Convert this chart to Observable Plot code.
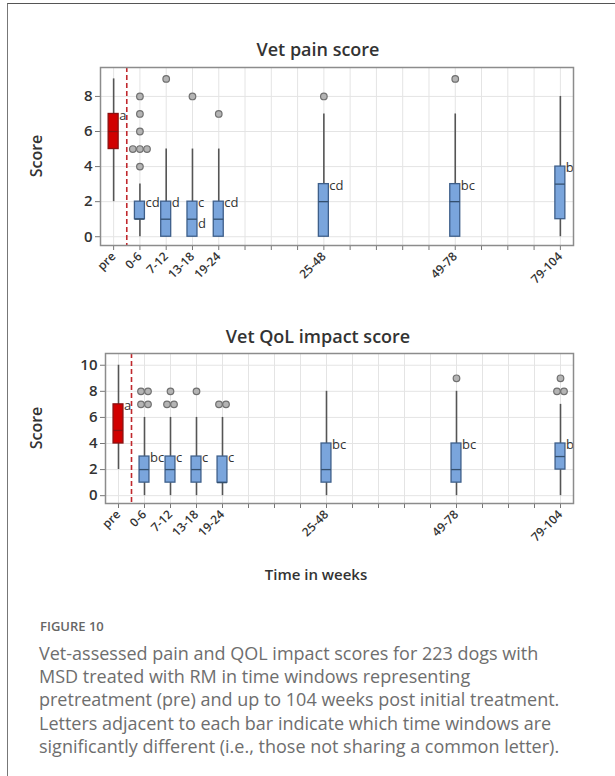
<!DOCTYPE html>
<html><head><meta charset="utf-8">
<script src="https://cdn.jsdelivr.net/npm/d3@7"></script>
<script src="https://cdn.jsdelivr.net/npm/@observablehq/plot@0.6"></script>
<style>
html,body{margin:0;padding:0;background:#fff;}
body{width:615px;height:776px;position:relative;overflow:hidden;font-family:"Open Sans",sans-serif;}
#card{position:absolute;left:7px;top:3px;width:640px;height:800px;border-left:1.5px solid #777;border-top:1.5px solid #555;}
.title{position:absolute;left:0;width:636px;text-align:center;font-weight:600;font-size:18px;color:#333;}
.ylab{position:absolute;font-size:16px;font-weight:600;color:#333;transform:rotate(-90deg);transform-origin:center;}
.plot{position:absolute;left:0;}
#xlab{position:absolute;left:0;width:632px;text-align:center;top:564px;font-size:15px;font-weight:600;color:#333;}
#fig{position:absolute;left:40px;top:617px;font-size:13px;font-weight:600;color:#666;}
#cap{position:absolute;left:39px;top:642px;width:580px;font-size:18px;line-height:23.2px;color:#6e6e6e;white-space:nowrap;}
</style></head>
<body>
<div id="card"></div>
<div class="title" style="top:37px">Vet pain score</div>
<div class="ylab" style="left:15px;top:145px">Score</div>
<div class="plot" id="p1" style="top:60px"></div>
<div class="title" style="top:324px">Vet QoL impact score</div>
<div class="ylab" style="left:15px;top:417px">Score</div>
<div class="plot" id="p2" style="top:346px"></div>
<div id="xlab">Time in weeks</div>
<div id="fig">FIGURE 10</div>
<div id="cap">Vet-assessed pain and QOL impact scores for 223 dogs with<br>MSD treated with RM in time windows representing<br>pretreatment (pre) and up to 104 weeks post initial treatment.<br>Letters adjacent to each bar indicate which time windows are<br>significantly different (i.e., those not sharing a common letter).</div>
<script>
// time windows and their slot on the time axis (18 slots, unlabeled in between)
const windows = ["pre","0-6","7-12","13-18","19-24","25-48","49-78","79-104"];
const slots = [0,1,2,3,4,8,13,17];
const slotCount = 18;

// Vet pain score
const painLow  = [2,0,0,0,0,0,0,0];
const painQ1   = [5,1,0,0,0,0,0,1];
const painMed  = [6,1,1,1,1,2,2,3];
const painQ3   = [7,2,2,2,2,3,3,4];
const painHigh = [9,3,5,5,5,7,7,8];
const painLetters = ["a","cd","d","c\nd","cd","cd","bc","b"];
const painOutliers = [[],[4,5,5,5,6,7,8],[9],[8],[7],[8],[9],[]];
const painTicks = [0,2,4,6,8];

// Vet QoL impact score
const qolLow  = [2,0,0,0,0,0,0,0];
const qolQ1   = [4,1,1,1,1,1,1,2];
const qolMed  = [5,2,2,2,1,2,2,3];
const qolQ3   = [7,3,3,3,3,4,4,4];
const qolHigh = [10,6,6,6,6,8,8,7];
const qolLetters = ["a","bc","c","c","c","bc","bc","b"];
const qolOutliers = [[],[7,7,8,8],[7,7,8],[8],[7,7],[],[9],[8,8,9]];
const qolTicks = [0,2,4,6,8,10];

const BOXW = 0.19, DOTSTEP = 0.27;
const labelOf = new Map(slots.map((s,i)=>[s,windows[i]]));

function build(low,q1,med,q3,high,letters,outl,ticks,ydom,opts){
  const rows = windows.map((w,i)=>({w,s:slots[i],low:low[i],q1:q1[i],med:med[i],q3:q3[i],high:high[i],letter:letters[i],pre:i===0}));
  const dots = [];
  outl.forEach((arr,i)=>{
    const counts = d3.rollup(arr,v=>v.length,v=>v);
    const seen = new Map();
    arr.forEach(v=>{
      const n = counts.get(v), k = seen.get(v)||0; seen.set(v,k+1);
      dots.push({x:slots[i]+(k-(n-1)/2)*DOTSTEP,y:v});
    });
  });
  const split = (slots[0]+slots[1])/2;
  return Plot.plot({
    width:615, height:opts.height,
    marginLeft:opts.ml, marginRight:42, marginTop:7, marginBottom:opts.mb,
    style:{fontFamily:"Open Sans, sans-serif", background:"transparent"},
    x:{type:"linear", domain:[-0.5, slotCount-0.5]},
    y:{domain:ydom},
    marks:[
      Plot.gridX(d3.range(slotCount),{stroke:"#e4e4e4",strokeOpacity:1}),
      Plot.gridY(ticks,{stroke:"#e4e4e4",strokeOpacity:1}),
      Plot.axisX(d3.range(slotCount),{tickFormat:d=>labelOf.get(d)||"",tickRotate:-45,tickSize:5,tickPadding:4,stroke:"#777",fontSize:12,fontWeight:600,fill:"#333",label:null,textAnchor:"end"}),
      Plot.axisY(ticks,{tickSize:5,tickPadding:3,stroke:"#777",fontSize:15,fontWeight:600,fill:"#333",label:null}),
      Plot.ruleX([split],{stroke:"#c0282d",strokeWidth:1.6,strokeDasharray:"5,3"}),
      Plot.ruleX(rows,{x:"s",y1:"low",y2:"high",stroke:"#555",strokeWidth:1.6}),
      Plot.rect(rows,{x1:d=>d.s-BOXW,x2:d=>d.s+BOXW,y1:"q1",y2:"q3",fill:d=>d.pre?"#d10000":"#7aa5dc",stroke:d=>d.pre?"#8a1010":"#3e5f8a",strokeWidth:1.3}),
      Plot.ruleY(rows,{y:"med",x1:d=>d.s-BOXW,x2:d=>d.s+BOXW,stroke:d=>d.pre?"#8a1010":"#34506f",strokeWidth:1.3}),
      Plot.dot(dots,{x:"x",y:"y",r:3.3,fill:"#b4b4b4",stroke:"#707070",strokeWidth:1.2}),
      Plot.text(rows,{x:"s",y:"q3",text:"letter",dx:5.5,dy:-9,textAnchor:"start",lineAnchor:"top",lineHeight:1.6,fontSize:13,fill:"#333"}),
      Plot.frame({stroke:"#8c8c8c",strokeWidth:1.5})
    ]
  });
}

document.getElementById("p1").append(build(painLow,painQ1,painMed,painQ3,painHigh,painLetters,painOutliers,painTicks,[-0.5,9.65],{height:232,ml:100,mb:47}));
document.getElementById("p2").append(build(qolLow,qolQ1,qolMed,qolQ3,qolHigh,qolLetters,qolOutliers,qolTicks,[-0.6,10.9],{height:202,ml:105,mb:45}));
</script>
</body></html>
